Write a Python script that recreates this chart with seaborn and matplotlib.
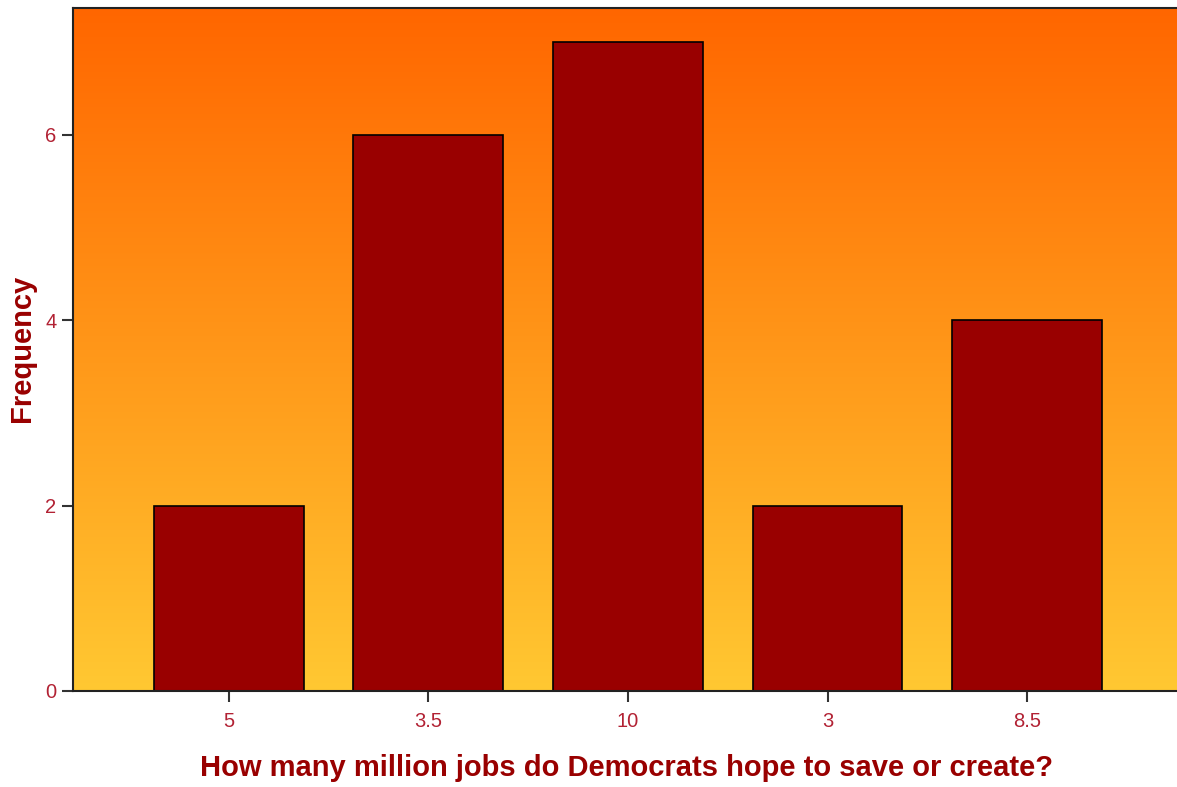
import matplotlib
matplotlib.use("Agg")
import matplotlib.pyplot as plt
import numpy as np
import pandas as pd
import seaborn as sns
from matplotlib.colors import LinearSegmentedColormap

# data
categories = ["5", "3.5", "10", "3", "8.5"]
frequencies = [2, 6, 7, 2, 4]
y_ticks = [0, 2, 4, 6]

df = pd.DataFrame({"answer": categories, "count": frequencies})

sns.set_style("ticks")
plt.rcParams["font.family"] = ["Liberation Sans", "DejaVu Sans"]

fig = plt.figure(figsize=(11.77, 7.87), dpi=100)
ax = fig.add_axes([73 / 1177, 96 / 787, 1104 / 1177, 683 / 787])

# orange-to-yellow gradient background
grad = LinearSegmentedColormap.from_list("bg", ["#FFC832", "#FF6600"])
ax.imshow(np.linspace(0, 1, 256).reshape(-1, 1), cmap=grad, aspect="auto",
          extent=[0, 1, 0, 1], transform=ax.transAxes, origin="lower", zorder=0)

sns.barplot(data=df, x="answer", y="count", order=categories, color="#990000",
            edgecolor="black", linewidth=1.2, width=0.75, saturation=1, ax=ax, zorder=2)

ax.set_xlim(-0.78, 4.75)
ax.set_ylim(0, 7.37)
ax.set_yticks(y_ticks)
ax.tick_params(axis="both", colors="#333333", length=8, width=1.5,
               labelcolor="#B22234", labelsize=14.5)
ax.tick_params(axis="x", pad=7)
ax.tick_params(axis="y", pad=4)
for s in ax.spines.values():
    s.set_linewidth(1.5)
    s.set_color("#222222")
ax.spines["right"].set_visible(False)

ax.set_xlabel("How many million jobs do Democrats hope to save or create?",
              fontsize=21, fontweight="bold", color="#990000")
ax.set_ylabel("Frequency", fontsize=21, fontweight="bold", color="#990000")
ax.xaxis.set_label_coords((627 - 73) / 1104, (691 - 768) / 683)
ax.yaxis.set_label_coords((22 - 73) / 1104, (691 - 348) / 683)
ax.xaxis.label.set_va("center")
ax.yaxis.label.set_va("center")

fig.savefig("out.png", dpi=100)
